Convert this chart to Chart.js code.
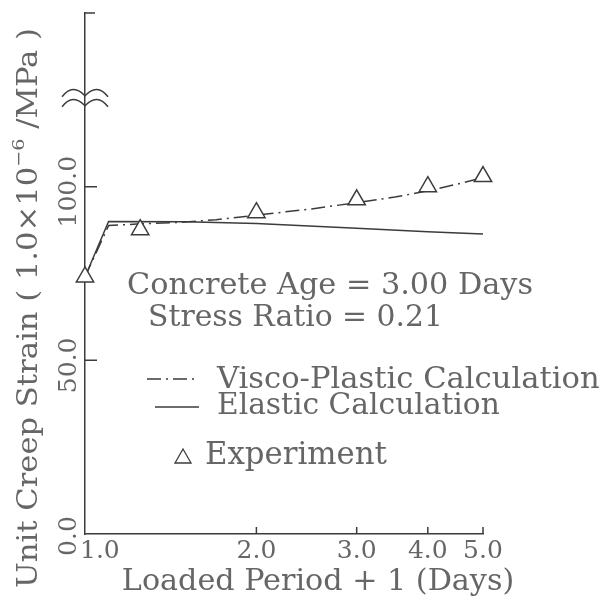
<!DOCTYPE html>
<html>
<head>
<meta charset="utf-8">
<script src="https://cdn.jsdelivr.net/npm/chart.js@4"></script>
<style>
  body { margin: 0; background: #fff; }
  #wrap { width: 600px; height: 600px; }
</style>
</head>
<body>
<div id="wrap"><canvas id="creep" width="600" height="600"></canvas></div>
<script>
const xTicks = [1, 2, 3, 4, 5];
const xTickLabels = ["1.0", "2.0", "3.0", "4.0", "5.0"];
const yTicks = [0, 50, 100];
const yTickLabels = ["0.0", "50.0", "100.0"];

const viscoX = [1.0, 1.1, 1.25, 1.5, 1.7, 2.0, 2.5, 3.0, 3.5, 4.0, 4.5, 5.0];
const viscoY = [74.0, 88.8, 89.3, 89.8, 90.5, 91.8, 93.6, 95.4, 97.0, 98.8, 100.7, 102.6];

const elasticX = [1.0, 1.1, 1.5, 2.0, 3.0, 4.0, 5.0];
const elasticY = [74.0, 90.0, 89.9, 89.4, 88.0, 87.0, 86.4];

const expX = [1.0, 1.25, 2.0, 3.0, 4.0, 5.0];
const expY = [74.0, 87.6, 92.5, 96.2, 100.0, 102.9];

const INK = "#3c3c3c";
const TEXT = "#666";
const FONT = "'DejaVu Serif', 'Liberation Serif', serif";

const toPts = (xs, ys) => xs.map((x, i) => ({ x, y: ys[i] }));

// draw text so it spans a given width
function fitText(ctx, str, x, y, width, align) {
  ctx.font = "30px " + FONT;
  const w = ctx.measureText(str).width;
  const size = 30 * width / w;
  ctx.font = size.toFixed(1) + "px " + FONT;
  ctx.textAlign = align || "left";
  ctx.fillText(str, x, y);
}

const decor = {
  id: "decor",
  afterDraw(chart) {
    const ctx = chart.ctx;
    const xs = chart.scales.x, ys = chart.scales.y;
    const area = chart.chartArea;
    ctx.save();
    ctx.strokeStyle = INK;
    ctx.lineWidth = 1.5;

    // inward tick marks
    ctx.beginPath();
    yTicks.forEach(v => {
      if (v === 0) return;
      const py = ys.getPixelForValue(v);
      ctx.moveTo(area.left, py); ctx.lineTo(area.left + 12, py);
    });
    xTicks.forEach(v => {
      if (v === 1) return;
      const px = xs.getPixelForValue(v);
      ctx.moveTo(px, area.bottom); ctx.lineTo(px, area.bottom - 7);
    });
    // top bracket of y axis
    ctx.moveTo(area.left, area.top); ctx.lineTo(area.left + 10, area.top);
    ctx.stroke();

    // axis break
    const bp = ys.getPixelForValue(125);
    [bp - 5, bp + 5].forEach(cy => {
      ctx.beginPath();
      ctx.moveTo(area.left - 23, cy + 2);
      ctx.quadraticCurveTo(area.left - 12, cy - 12, area.left, cy + 1);
      ctx.quadraticCurveTo(area.left + 12, cy - 12, area.left + 23, cy + 2);
      ctx.stroke();
    });

    ctx.fillStyle = TEXT;
    ctx.textBaseline = "middle";

    // x tick labels
    xTicks.forEach((v, i) => {
      const px = xs.getPixelForValue(v);
      ctx.font = "25px " + FONT;
      if (i === 0) { ctx.textAlign = "left"; ctx.fillText(xTickLabels[i], px - 5, 551); }
      else { ctx.textAlign = "center"; ctx.fillText(xTickLabels[i], px, 551); }
    });

    // y tick labels, rotated
    yTicks.forEach((v, i) => {
      const py = ys.getPixelForValue(v);
      ctx.save();
      ctx.translate(69, v === 0 ? py + 2 : py + 5);
      ctx.rotate(-Math.PI / 2);
      ctx.font = "25px " + FONT;
      ctx.textAlign = "center";
      ctx.fillText(yTickLabels[i], 0, 0);
      ctx.restore();
    });

    // axis titles
    fitText(ctx, "Loaded Period + 1 (Days)", 318, 582, 392, "center");

    ctx.save();
    ctx.translate(30, 308);
    ctx.rotate(-Math.PI / 2);
    ctx.font = "27px " + FONT;
    const parts = ["Unit Creep Strain ( 1.0\u00d710", "\u22126", " /MPa )"];
    const w0 = ctx.measureText(parts[0]).width;
    ctx.font = "17px " + FONT;
    const w1 = ctx.measureText(parts[1]).width;
    ctx.font = "27px " + FONT;
    const w2 = ctx.measureText(parts[2]).width;
    const total = w0 + w1 + w2;
    const k = 560 / total;
    ctx.scale(k, 1);
    let cx = -total / 2;
    ctx.textAlign = "left";
    ctx.fillText(parts[0], cx, 0); cx += w0;
    ctx.font = "17px " + FONT;
    ctx.fillText(parts[1], cx, -10); cx += w1;
    ctx.font = "27px " + FONT;
    ctx.fillText(parts[2], cx, 0);
    ctx.restore();

    // annotation
    fitText(ctx, "Concrete Age = 3.00 Days", 127, 286, 406);
    fitText(ctx, "Stress Ratio = 0.21", 148, 318, 295);

    // legend
    ctx.strokeStyle = INK;
    ctx.lineWidth = 1.5;
    ctx.setLineDash([14, 5, 2, 5]);
    ctx.beginPath(); ctx.moveTo(147, 379); ctx.lineTo(199, 379); ctx.stroke();
    ctx.setLineDash([]);
    ctx.beginPath(); ctx.moveTo(155, 407); ctx.lineTo(199, 407); ctx.stroke();
    fitText(ctx, "Visco-Plastic Calculation", 217, 380, 383);
    fitText(ctx, "Elastic Calculation", 217, 406, 283);
    fitText(ctx, "Experiment", 205, 456, 182);
    ctx.beginPath();
    ctx.moveTo(183, 449); ctx.lineTo(191, 463); ctx.lineTo(175, 463); ctx.closePath();
    ctx.lineWidth = 1.3;
    ctx.stroke();

    ctx.restore();
  }
};

new Chart(document.getElementById("creep"), {
  type: "line",
  data: {
    datasets: [
      {
        label: "Experiment",
        data: toPts(expX, expY),
        showLine: false,
        pointStyle: "triangle",
        pointRadius: 10,
        pointBackgroundColor: "#fff",
        pointBorderColor: INK,
        pointBorderWidth: 1.5,
        clip: false,
        order: 0
      },
      {
        label: "Visco-Plastic Calculation",
        data: toPts(viscoX, viscoY),
        borderColor: INK,
        borderWidth: 1.5,
        borderDash: [14, 5, 2, 5],
        pointRadius: 0,
        tension: 0,
        clip: false,
        order: 1
      },
      {
        label: "Elastic Calculation",
        data: toPts(elasticX, elasticY),
        borderColor: INK,
        borderWidth: 1.5,
        pointRadius: 0,
        tension: 0,
        clip: false,
        order: 2
      }
    ]
  },
  options: {
    responsive: false,
    animation: false,
    layout: { padding: { left: 85, right: 117, top: 13, bottom: 66 } },
    plugins: { legend: { display: false }, tooltip: { enabled: false } },
    scales: {
      x: {
        type: "logarithmic",
        min: 1, max: 5,
        ticks: { display: false },
        grid: { display: false, drawTicks: false },
        border: { display: true, color: INK, width: 1.5 }
      },
      y: {
        type: "linear",
        min: 0, max: 150,
        ticks: { display: false },
        grid: { display: false, drawTicks: false },
        border: { display: true, color: INK, width: 1.5 }
      }
    }
  },
  plugins: [decor]
});
</script>
</body>
</html>
